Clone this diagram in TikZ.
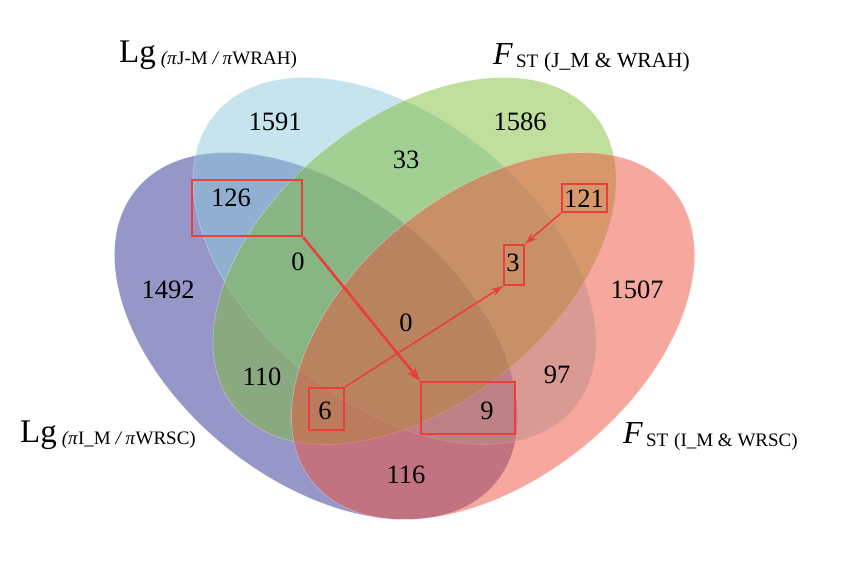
\documentclass[tikz,border=0pt]{standalone}
\usepackage{fontspec}
\setmainfont{Liberation Serif}
\usetikzlibrary{arrows.meta}
\definecolor{vpurple}{RGB}{45,45,145}
\definecolor{vblue}{RGB}{139,201,219}
\definecolor{vgreen}{RGB}{129,189,57}
\definecolor{vred}{RGB}{237,81,61}
\definecolor{boxred}{RGB}{234,62,58}
\begin{document}
\begin{tikzpicture}[x=1pt,y=-1pt,
  setfill/.style={fill=#1, fill opacity=0.5, draw=white, draw opacity=0.35, line width=0.6pt},
  num/.style={font=\fontsize{26.5}{26.5}\selectfont, inner sep=0pt},
  hbox/.style={draw=boxred, line width=2.3pt, inner sep=0pt},
  bigarrow/.style={draw=boxred, line width=2.6pt, -{Stealth[length=14pt,width=10pt]}},
  thinarrow/.style={draw=boxred, line width=1.5pt, -{Stealth[length=12pt,width=8pt]}},
  setlabel/.style={anchor=base west, inner sep=0pt, font=\fontsize{33}{33}\selectfont}]
\useasboundingbox (0,0) rectangle (841,560);
% ellipses
\path[setfill=vpurple, rotate around={-39:(316,336)}] (316,336) ellipse [x radius=232, y radius=143];
\path[setfill=vblue, rotate around={-39:(394.5,261)}] (394.5,261) ellipse [x radius=232, y radius=143];
\path[setfill=vgreen, rotate around={39:(414.5,261)}] (414.5,261) ellipse [x radius=232, y radius=143];
\path[setfill=vred, rotate around={39:(493,336)}] (493,336) ellipse [x radius=232, y radius=143];
% labels
\node[setlabel] (lab1) at (119,62) {Lg\hspace{5pt}\raisebox{-2pt}{\fontsize{19}{19}\selectfont\textit{(π}J-M \textit{/ π}WRAH)}};
\node[setlabel, font=\fontsize{32}{32}\selectfont] (lab2) at (493,64) {\textit{F}\hspace{3pt}\raisebox{-3pt}{\fontsize{19}{19}\selectfont ST}\hspace{6pt}\raisebox{-3pt}{\fontsize{21.5}{21.5}\selectfont (J\_M \& WRAH)}};
\node[setlabel] (lab3) at (20,442) {Lg\hspace{5pt}\raisebox{-2pt}{\fontsize{19}{19}\selectfont\textit{(π}I\_M \textit{/ π}WRSC)}};
\node[setlabel, font=\fontsize{32}{32}\selectfont] (lab4) at (623,443) {\textit{F}\hspace{3pt}\raisebox{-3pt}{\fontsize{19}{19}\selectfont ST\hspace{6pt}(I\_M \& WRSC)}};
% numbers
\node[num] (n1591) at (275,122) {1591};
\node[num] (n1586) at (520,122) {1586};
\node[num] (n33) at (406,160) {33};
\node[num] (n126) at (231,198) {126};
\node[num] (n121) at (584,199) {121};
\node[num] (n0a) at (298,262) {0};
\node[num] (n3) at (513,263) {3};
\node[num] (n1492) at (168,290) {1492};
\node[num] (n1507) at (637,290) {1507};
\node[num] (n0b) at (406,323) {0};
\node[num] (n110) at (262,377) {110};
\node[num] (n97) at (557,375) {97};
\node[num] (n6) at (325,411) {6};
\node[num] (n9) at (487,411) {9};
\node[num] (n116) at (406,475) {116};
% highlight boxes
\node[hbox, minimum width=110pt, minimum height=56pt] (b126) at (247,208) {};
\node[hbox, minimum width=45pt, minimum height=28pt] (b121) at (584.5,198) {};
\node[hbox, minimum width=20pt, minimum height=40pt] (b3) at (514,265) {};
\node[hbox, minimum width=35pt, minimum height=42pt] (b6) at (326.5,409) {};
\node[hbox, minimum width=94pt, minimum height=52pt] (b9) at (468,408) {};
% arrows
\draw[bigarrow] (b126.south east) -- (b9.north west);
\draw[thinarrow] (b6.north east) -- (b3.south west);
\draw[thinarrow] (b121.south west) -- (b3.north east);
\end{tikzpicture}
\end{document}
